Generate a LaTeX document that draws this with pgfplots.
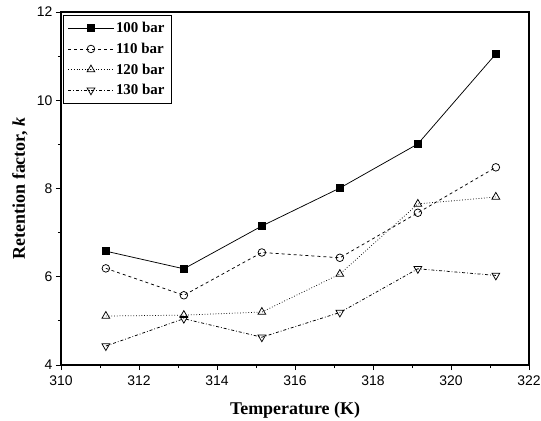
\documentclass[border=0pt]{standalone}
\usepackage{pgfplots}
\pgfplotsset{compat=1.18}
\usepackage{fontspec}
\setmainfont{Liberation Serif}
\newfontfamily\arial{Liberation Sans}
\begin{document}
\begin{tikzpicture}
\begin{axis}[
  width=468bp, height=353bp, scale only axis,
  xmin=310, xmax=322, ymin=4, ymax=12,
  xtick={310,312,...,322}, ytick={4,6,...,12},
  minor x tick num=1, minor y tick num=1,
  tick align=outside, tick pos=left,
  major tick length=5bp, minor tick length=3bp,
  axis line style={line width=1.1bp},
  every tick/.style={black, line width=0.8bp},
  /pgf/number format/assume math mode=true,
  ticklabel style={font=\fontsize{14}{14}\selectfont\arial},
  xticklabel style={yshift=-2bp},
  xlabel={\textbf{Temperature (K)}},
  ylabel={\textbf{Retention factor, \textit{k}}},
  label style={font=\fontsize{18}{18}\selectfont},
  xlabel style={at={(axis description cs:0.5,-0.1416)}, anchor=base},
  ylabel style={at={(axis description cs:-0.077,0.5)}, anchor=base},
  legend style={at={(axis description cs:0.0043,0.9915)}, anchor=north west, draw=black, line width=0.8bp,
    font=\fontsize{15}{15}\selectfont\bfseries, row sep=4.8bp, inner ysep=5bp, inner xsep=4.5bp},
  legend cell align=left,
  legend image code/.code={%
    \draw[mark repeat=2,mark phase=2] plot coordinates {(0cm,0cm) (0.8cm,0cm) (1.6cm,0cm)};},
  every axis plot/.append style={line width=0.75bp, black},
]
\addplot[solid, mark=square*, mark size=3.5bp, mark options={solid}] coordinates {
(311.15,6.58) (313.15,6.18) (315.15,7.15) (317.15,8.01) (319.15,9.01) (321.15,11.05)};
\addlegendentry{100 bar}
\addplot[dashed, mark=o, mark size=3.8bp, mark options={solid, fill=white}] coordinates {
(311.15,6.19) (313.15,5.58) (315.15,6.55) (317.15,6.43) (319.15,7.45) (321.15,8.48)};
\addlegendentry{110 bar}
\addplot[dotted, mark=triangle, mark size=4.5bp, mark options={solid, fill=white}] coordinates {
(311.15,5.11) (313.15,5.13) (315.15,5.20) (317.15,6.06) (319.15,7.65) (321.15,7.81)};
\addlegendentry{120 bar}
\addplot[dash dot, mark=triangle, mark size=4.5bp, mark options={solid, fill=white, rotate=180}] coordinates {
(311.15,4.43) (313.15,5.05) (315.15,4.63) (317.15,5.19) (319.15,6.18) (321.15,6.03)};
\addlegendentry{130 bar}
\end{axis}
\pgfresetboundingbox
\path ([shift={(-61bp,-56bp)}]current axis.south west) rectangle ([shift={(12bp,12bp)}]current axis.north east);
\end{tikzpicture}
\end{document}
